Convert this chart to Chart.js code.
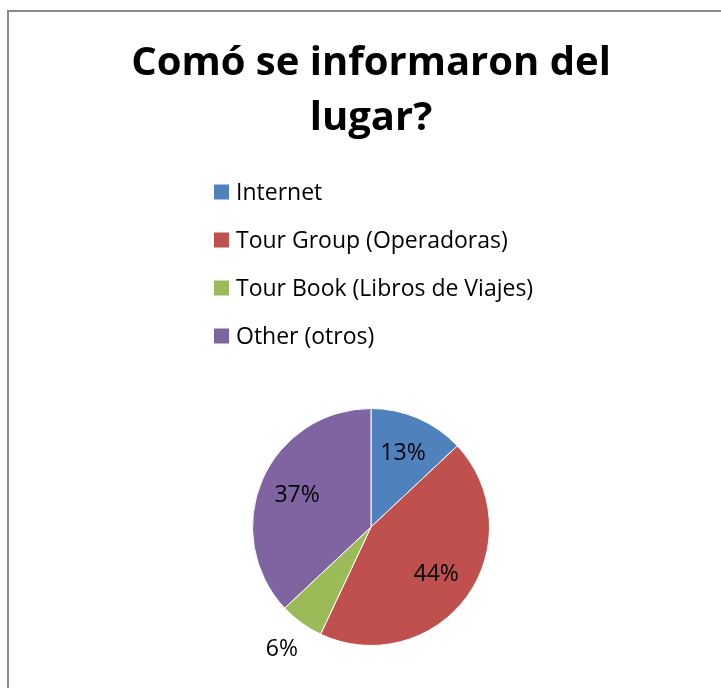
<!DOCTYPE html>
<html>
<head>
<meta charset="utf-8">
<script src="https://cdn.jsdelivr.net/npm/chart.js@4/dist/chart.umd.min.js"></script>
<style>
  html, body { margin: 0; padding: 0; background: #ffffff; overflow: hidden; }
  #wrap { position: relative; width: 721px; height: 688px; }
  #frame { position: absolute; left: 7px; top: 10px; width: 760px; height: 760px;
           border: 2px solid #8a8a8a; box-sizing: border-box; }
  canvas { position: absolute; left: 0; top: 0; }
</style>
</head>
<body>
<div id="wrap">
  <div id="frame"></div>
  <canvas id="c" width="721" height="688"></canvas>
</div>
<script>
// ---- data ----
const titleLines = ['Comó se informaron del', 'lugar?'];
const categories = ['Internet', 'Tour Group (Operadoras)', 'Tour Book (Libros de Viajes)', 'Other (otros)'];
const values = [13, 44, 6, 37];
const colors = ['#4F81BD', '#C0504D', '#9BBB59', '#8064A2'];

const FONT = '"Open Sans", Lato, sans-serif';

// legend drawn as a vertical left-aligned column (Excel style)
const columnLegend = {
  id: 'columnLegend',
  afterDraw(chart, args, opts) {
    const ctx = chart.ctx;
    const items = chart.legend.legendItems || [];
    ctx.save();
    ctx.font = opts.fontSize + 'px ' + FONT;
    ctx.textBaseline = 'middle';
    ctx.textAlign = 'left';
    items.forEach((it, i) => {
      const cy = opts.top + i * opts.rowGap;
      ctx.fillStyle = it.fillStyle;
      ctx.fillRect(opts.left, cy - opts.box / 2, opts.box, opts.box);
      ctx.fillStyle = '#000000';
      ctx.fillText(it.text, opts.left + opts.box + opts.textGap, cy + 1);
    });
    ctx.restore();
  }
};

// percentage labels placed on/near each slice
const sliceLabels = {
  id: 'sliceLabels',
  afterDatasetsDraw(chart, args, opts) {
    const ctx = chart.ctx;
    const ds = chart.data.datasets[0];
    const total = ds.data.reduce((a, b) => a + b, 0);
    const meta = chart.getDatasetMeta(0);
    ctx.save();
    ctx.font = opts.fontSize + 'px ' + FONT;
    ctx.fillStyle = '#000000';
    ctx.textAlign = 'center';
    ctx.textBaseline = 'middle';
    meta.data.forEach((arc, i) => {
      const p = arc.getProps(['x', 'y', 'startAngle', 'endAngle', 'outerRadius'], true);
      const pct = ds.data[i] / total * 100;
      const mid = (p.startAngle + p.endAngle) / 2;
      const f = pct < 8 ? opts.outside : opts.inside;
      const r = p.outerRadius * f;
      ctx.fillText(Math.round(pct) + '%', p.x + Math.cos(mid) * r, p.y + Math.sin(mid) * r);
    });
    ctx.restore();
  }
};

new Chart(document.getElementById('c'), {
  type: 'pie',
  data: {
    labels: categories,
    datasets: [{
      data: values,
      backgroundColor: colors,
      borderColor: '#ffffff',
      borderWidth: 1
    }]
  },
  plugins: [columnLegend, sliceLabels],
  options: {
    responsive: false,
    animation: false,
    layout: { padding: { left: 21, right: 0, top: 0, bottom: 42 } },
    plugins: {
      legend: { display: false },
      tooltip: { enabled: false },
      title: {
        display: true,
        text: titleLines,
        color: '#000000',
        font: { family: FONT, size: 40, weight: 'bold', lineHeight: '55px' },
        padding: { top: 36, bottom: 262 }
      },
      columnLegend: { left: 214, top: 192, rowGap: 48, box: 15, textGap: 7, fontSize: 23 },
      sliceLabels: { fontSize: 23, inside: 0.68, outside: 1.28 }
    }
  }
});
</script>
</body>
</html>
